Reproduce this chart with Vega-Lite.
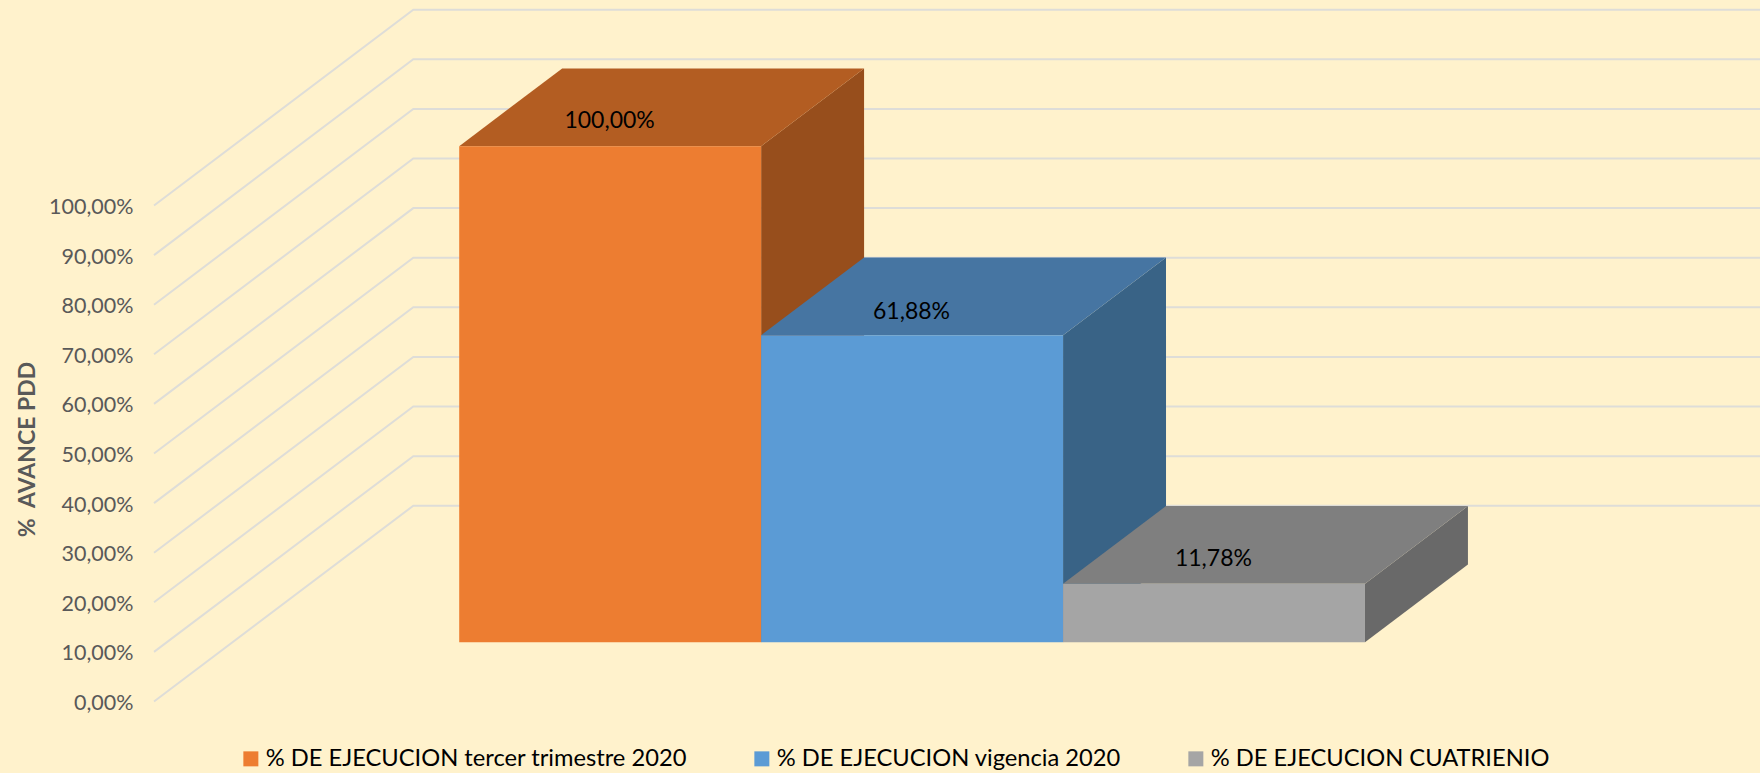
{
"$schema":"https://vega.github.io/schema/vega-lite/v6.json",
"width":1760,"height":773,"padding":0,"autosize":{"type":"none"},
"background":"#FFF2CC",
"config":{"view":{"stroke":null},"font":"Lato"},
"datasets":{
"rejilla":[
{"nivel":0,"x":-101.08,"y":0},{"nivel":0,"x":-15.2,"y":39.47},{"nivel":0,"x":430.83,"y":39.47},
{"nivel":10,"x":-101.08,"y":10},{"nivel":10,"x":-15.2,"y":49.47},{"nivel":10,"x":430.83,"y":49.47},
{"nivel":20,"x":-101.08,"y":20},{"nivel":20,"x":-15.2,"y":59.47},{"nivel":20,"x":430.83,"y":59.47},
{"nivel":30,"x":-101.08,"y":30},{"nivel":30,"x":-15.2,"y":69.47},{"nivel":30,"x":430.83,"y":69.47},
{"nivel":40,"x":-101.08,"y":40},{"nivel":40,"x":-15.2,"y":79.47},{"nivel":40,"x":430.83,"y":79.47},
{"nivel":50,"x":-101.08,"y":50},{"nivel":50,"x":-15.2,"y":89.47},{"nivel":50,"x":430.83,"y":89.47},
{"nivel":60,"x":-101.08,"y":60},{"nivel":60,"x":-15.2,"y":99.47},{"nivel":60,"x":430.83,"y":99.47},
{"nivel":70,"x":-101.08,"y":70},{"nivel":70,"x":-15.2,"y":109.47},{"nivel":70,"x":430.83,"y":109.47},
{"nivel":80,"x":-101.08,"y":80},{"nivel":80,"x":-15.2,"y":119.47},{"nivel":80,"x":430.83,"y":119.47},
{"nivel":90,"x":-101.08,"y":90},{"nivel":90,"x":-15.2,"y":129.47},{"nivel":90,"x":430.83,"y":129.47},
{"nivel":100,"x":-101.08,"y":100},{"nivel":100,"x":-15.2,"y":139.47},{"nivel":100,"x":430.83,"y":139.47}
],
"lateral":[
{"serie":"% DE EJECUCION tercer trimestre 2020","x":100,"y":11.96,"y2":111.96},
{"serie":"% DE EJECUCION tercer trimestre 2020","x":134.1,"y":27.63,"y2":127.63},
{"serie":"% DE EJECUCION vigencia 2020","x":200,"y":11.96,"y2":73.84},
{"serie":"% DE EJECUCION vigencia 2020","x":234.1,"y":27.63,"y2":89.51},
{"serie":"% DE EJECUCION CUATRIENIO","x":300,"y":11.96,"y2":23.74},
{"serie":"% DE EJECUCION CUATRIENIO","x":334.1,"y":27.63,"y2":39.41}
],
"superior":[
{"serie":"% DE EJECUCION tercer trimestre 2020","y":111.96,"x":0,"x2":100},
{"serie":"% DE EJECUCION tercer trimestre 2020","y":127.63,"x":34.1,"x2":134.1},
{"serie":"% DE EJECUCION vigencia 2020","y":73.84,"x":100,"x2":200},
{"serie":"% DE EJECUCION vigencia 2020","y":89.51,"x":134.1,"x2":234.1},
{"serie":"% DE EJECUCION CUATRIENIO","y":23.74,"x":200,"x2":300},
{"serie":"% DE EJECUCION CUATRIENIO","y":39.41,"x":234.1,"x2":334.1}
],
"frontal":[
{"serie":"% DE EJECUCION tercer trimestre 2020","x":0,"x2":100,"y":11.96,"y2":111.96},
{"serie":"% DE EJECUCION vigencia 2020","x":100,"x2":200,"y":11.96,"y2":73.84},
{"serie":"% DE EJECUCION CUATRIENIO","x":200,"x2":300,"y":11.96,"y2":23.74}
],
"etiquetas":[
{"etiqueta":"100,00%","x":49.8,"y":117.0},
{"etiqueta":"61,88%","x":149.8,"y":78.5},
{"etiqueta":"11,78%","x":249.8,"y":28.8}
]
},
"layer":[
{"data":{"name":"rejilla"},
 "mark":{"type":"line","stroke":"#DEDDD8","strokeWidth":2,"clip":true},
 "encoding":{
  "x":{"field":"x","type":"quantitative","scale":{"domain":[-152.09,430.83],"nice":false,"zero":false},"axis":null},
  "y":{"field":"y","type":"quantitative","scale":{"domain":[-14.415,141.43],"nice":false,"zero":false},
   "axis":{"orient":"left","offset":-140,"values":[0,10,20,30,40,50,60,70,80,90,100],
    "labelExpr":"replace(format(datum.value,'.2f'),'.',',')+'%'",
    "domain":false,"ticks":false,"grid":false,"labelPadding":7,"labelOffset":2,"labelFontSize":21.5,"labelColor":"#595959","labelFont":"Lato",
    "title":"%\u00a0\u00a0AVANCE PDD","titleFontSize":23,"titleFontWeight":"bold","titleColor":"#595959","titleFont":"Lato",
    "titleX":-113,"titleY":449,"titleAngle":-90,"titleAlign":"center","titleBaseline":"middle"}},
  "detail":{"field":"nivel","type":"nominal"}
 }},
{"data":{"name":"lateral"},
 "mark":{"type":"area","orient":"vertical"},
 "encoding":{
  "x":{"field":"x","type":"quantitative","scale":{"domain":[-152.09,430.83],"nice":false,"zero":false},"axis":null},
  "y":{"field":"y","type":"quantitative","scale":{"domain":[-14.415,141.43],"nice":false,"zero":false},"axis":null},
  "y2":{"field":"y2"},
  "color":{"field":"serie","type":"nominal","legend":null,"scale":{"domain":["% DE EJECUCION tercer trimestre 2020","% DE EJECUCION vigencia 2020","% DE EJECUCION CUATRIENIO"],"range":["#974E1C","#396386","#696969"]}}
 }},
{"data":{"name":"superior"},
 "mark":{"type":"area","orient":"horizontal"},
 "encoding":{
  "y":{"field":"y","type":"quantitative","scale":{"domain":[-14.415,141.43],"nice":false,"zero":false},"axis":null},
  "x":{"field":"x","type":"quantitative","scale":{"domain":[-152.09,430.83],"nice":false,"zero":false},"axis":null},
  "x2":{"field":"x2"},
  "color":{"field":"serie","type":"nominal","legend":null,"scale":{"domain":["% DE EJECUCION tercer trimestre 2020","% DE EJECUCION vigencia 2020","% DE EJECUCION CUATRIENIO"],"range":["#B35D22","#4675A2","#7F7F7F"]}}
 }},
{"data":{"name":"frontal"},
 "mark":{"type":"rect"},
 "encoding":{
  "x":{"field":"x","type":"quantitative","scale":{"domain":[-152.09,430.83],"nice":false,"zero":false},"axis":null},
  "x2":{"field":"x2"},
  "y":{"field":"y","type":"quantitative","scale":{"domain":[-14.415,141.43],"nice":false,"zero":false},"axis":null},
  "y2":{"field":"y2"},
  "color":{"field":"serie","type":"nominal",
   "scale":{"domain":["% DE EJECUCION tercer trimestre 2020","% DE EJECUCION vigencia 2020","% DE EJECUCION CUATRIENIO"],"range":["#ED7D31","#5B9BD5","#A5A5A5"]},
   "legend":{"title":null,"orient":"none","legendX":239,"legendY":747,"direction":"horizontal","columns":3,"gridAlign":"none","columnPadding":63,
    "symbolType":"square","symbolSize":225,"symbolStrokeWidth":0,"symbolOpacity":1,"labelFontSize":23.7,"labelColor":"#000000","labelFont":"Lato","labelOffset":3,"labelLimit":600,"symbolOffset":0}}
 }},
{"data":{"name":"etiquetas"},
 "mark":{"type":"text","fontSize":23,"color":"#000000","font":"Lato","align":"center","baseline":"middle"},
 "encoding":{
  "x":{"field":"x","type":"quantitative","scale":{"domain":[-152.09,430.83],"nice":false,"zero":false},"axis":null},
  "y":{"field":"y","type":"quantitative","scale":{"domain":[-14.415,141.43],"nice":false,"zero":false},"axis":null},
  "text":{"field":"etiqueta","type":"nominal"}
 }}
],
"resolve":{"scale":{"color":"independent"},"axis":{"y":"independent"}}
}
